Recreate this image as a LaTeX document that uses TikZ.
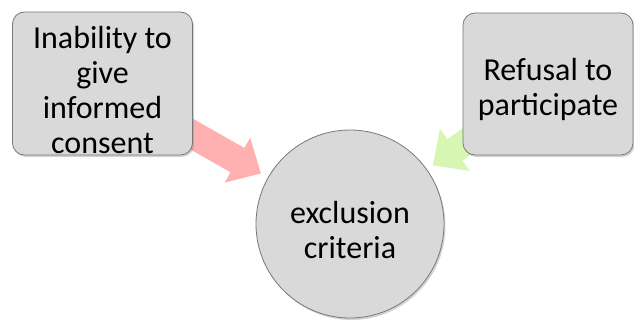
\documentclass[tikz,border=0pt]{standalone}
\usepackage{fontspec}
\setmainfont{Carlito}
\usetikzlibrary{arrows.meta,shadows,backgrounds}

\definecolor{boxgray}{RGB}{217,217,217}
\definecolor{rimgray}{RGB}{120,120,120}
\definecolor{redflow}{RGB}{255,176,176}
\definecolor{greenflow}{RGB}{214,246,178}

\tikzset{
  reason/.style={draw=rimgray, fill=boxgray, line width=0.8pt, rounded corners=12pt,
    inner sep=0pt, align=center, font=\fontsize{32}{35}\selectfont,
    drop shadow={shadow xshift=1.5pt, shadow yshift=-2pt, opacity=0.35}},
  hub/.style={circle, draw=rimgray, fill=boxgray, line width=0.8pt, minimum size=188pt,
    inner sep=0pt, align=center, font=\fontsize{32}{35}\selectfont,
    drop shadow={shadow xshift=1.5pt, shadow yshift=-2pt, opacity=0.35}},
  flow/.style={line width=#1, -{Triangle[length=27pt, width=50pt]}},
}

\begin{document}
\begin{tikzpicture}[x=1pt, y=-1pt]
	\useasboundingbox (0,0) rectangle (634,321);
	
	\node[reason, minimum width=180pt, minimum height=143pt, text height=140pt] (inability) at (102.5,83.5)
		{Inability to\\give\\informed\\consent};
	\node[reason, minimum width=170pt, minimum height=142pt, text height=69pt] (refusal) at (548,84)
		{Refusal to\\participate};
	\node[hub, text height=70pt] (exclusion) at (350,224) {exclusion\\criteria};
	
	\begin{scope}[on background layer]
		\draw[flow=28pt, draw=redflow, shorten >=8pt] (inability.center) -- (exclusion);
		\draw[flow=26pt, draw=greenflow, shorten >=7pt] (refusal.center) -- (exclusion);
	\end{scope}
\end{tikzpicture}
\end{document}
